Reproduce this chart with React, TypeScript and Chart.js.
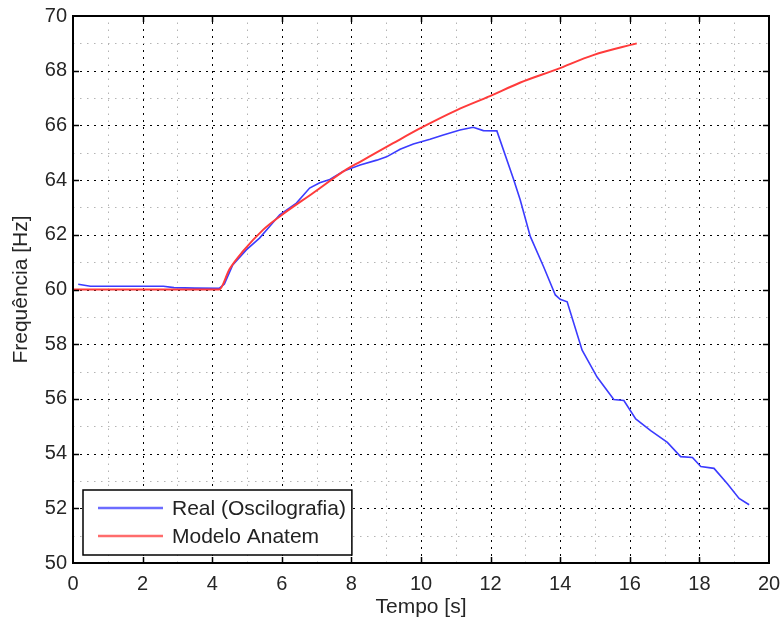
import React, { useEffect, useRef } from 'react';
import { Chart, registerables } from 'chart.js';

Chart.register(...registerables);

// ---- Data ----
const realTime = [0.15, 0.5, 1.5, 2.6, 2.9, 3.5, 4.2, 4.35, 4.59, 4.98, 5.36, 5.65, 5.94, 6.42, 6.8, 7.09, 7.38, 7.76, 8.25, 8.73, 9.01, 9.4, 9.78, 10.26, 10.64, 11.12, 11.5, 11.79, 12.18, 12.65, 12.85, 13.14, 13.52, 13.86, 14.0, 14.2, 14.63, 15.06, 15.54, 15.83, 16.17, 16.6, 17.08, 17.46, 17.8, 18.04, 18.42, 18.81, 19.14, 19.43];
const realFreq = [60.19, 60.12, 60.12, 60.12, 60.07, 60.05, 60.04, 60.2, 60.9, 61.45, 61.88, 62.3, 62.73, 63.16, 63.71, 63.9, 64.02, 64.32, 64.55, 64.73, 64.85, 65.13, 65.32, 65.49, 65.65, 65.83, 65.93, 65.81, 65.8, 64.07, 63.28, 61.94, 60.84, 59.8, 59.64, 59.55, 57.78, 56.8, 55.98, 55.94, 55.27, 54.84, 54.41, 53.89, 53.86, 53.53, 53.46, 52.89, 52.36, 52.13];

const modelTime = [0, 1, 2, 3, 4.2, 4.5, 4.88, 5.46, 5.94, 6.9, 7.86, 8.25, 9.2, 9.97, 11.03, 11.98, 12.84, 13.9, 14.95, 16.2];
const modelFreq = [60.0, 60.0, 60.0, 60.0, 60.0, 60.75, 61.39, 62.18, 62.67, 63.53, 64.39, 64.67, 65.35, 65.89, 66.56, 67.07, 67.56, 68.05, 68.57, 69.0];

const seriesLabels = ['Real (Oscilografia)', 'Modelo Anatem'];
const seriesColors = ['#3b3bff', '#ff3b3b'];

const xRange = [0, 20];
const yRange = [50, 70];
const majorStep = 2;
const xTitle = 'Tempo [s]';
const yTitle = 'Frequência [Hz]';

const FONT = '"Liberation Sans", Arial, Helvetica, sans-serif';

const matlabPlugin = {
  id: 'matlabStyle',
  beforeDatasetsDraw(chart: any) {
    const { ctx, chartArea: a, scales } = chart;
    const x = scales.x;
    const y = scales.y;
    ctx.save();
    ctx.lineWidth = 1;
    for (let v = xRange[0] + 1; v < xRange[1]; v++) {
      const major = v % majorStep === 0;
      ctx.strokeStyle = major ? '#000000' : '#b4b4b4';
      ctx.setLineDash(major ? [2, 5] : [1.5, 5.5]);
      const px = Math.round(x.getPixelForValue(v)) + 0.5;
      ctx.beginPath();
      ctx.moveTo(px, a.bottom);
      ctx.lineTo(px, a.top);
      ctx.stroke();
    }
    for (let v = yRange[0] + 1; v < yRange[1]; v++) {
      const major = v % majorStep === 0;
      ctx.strokeStyle = major ? '#000000' : '#b4b4b4';
      ctx.setLineDash(major ? [2, 5] : [1.5, 5.5]);
      const py = Math.round(y.getPixelForValue(v)) + 0.5;
      ctx.beginPath();
      ctx.moveTo(a.left, py);
      ctx.lineTo(a.right, py);
      ctx.stroke();
    }
    ctx.restore();
  },
  afterDatasetsDraw(chart: any) {
    const { ctx, chartArea: a, scales } = chart;
    const x = scales.x;
    const y = scales.y;
    ctx.save();
    ctx.setLineDash([]);
    ctx.strokeStyle = '#000';
    ctx.lineWidth = 1.5;
    const tl = 6;
    for (let v = xRange[0] + majorStep; v < xRange[1]; v += majorStep) {
      const px = Math.round(x.getPixelForValue(v)) + 0.5;
      ctx.beginPath();
      ctx.moveTo(px, a.bottom);
      ctx.lineTo(px, a.bottom - tl);
      ctx.moveTo(px, a.top);
      ctx.lineTo(px, a.top + tl);
      ctx.stroke();
    }
    for (let v = yRange[0] + majorStep; v < yRange[1]; v += majorStep) {
      const py = Math.round(y.getPixelForValue(v)) + 0.5;
      ctx.beginPath();
      ctx.moveTo(a.left, py);
      ctx.lineTo(a.left + tl, py);
      ctx.moveTo(a.right, py);
      ctx.lineTo(a.right - tl, py);
      ctx.stroke();
    }
    ctx.lineWidth = 2;
    ctx.strokeRect(a.left, a.top, a.right - a.left, a.bottom - a.top);

    // legend
    ctx.font = `21px ${FONT}`;
    const textW = Math.max(...seriesLabels.map((s) => ctx.measureText(s).width));
    const boxL = a.left + 10;
    const boxB = a.bottom - 8;
    const boxT = boxB - 65;
    const lineX0 = boxL + 15;
    const lineX1 = boxL + 80;
    const textX = boxL + 89;
    const boxR = textX + textW + 6;
    ctx.fillStyle = '#ffffff';
    ctx.fillRect(boxL, boxT, boxR - boxL, boxB - boxT);
    ctx.lineWidth = 1.5;
    ctx.strokeStyle = '#000';
    ctx.strokeRect(boxL, boxT, boxR - boxL, boxB - boxT);
    const rows = [boxT + 18, boxT + 46];
    seriesLabels.forEach((lab, i) => {
      ctx.strokeStyle = seriesColors[i];
      ctx.globalAlpha = 0.75;
      ctx.lineWidth = 2.5;
      ctx.beginPath();
      ctx.moveTo(lineX0, rows[i]);
      ctx.lineTo(lineX1, rows[i]);
      ctx.stroke();
      ctx.globalAlpha = 1;
      ctx.fillStyle = '#222222';
      ctx.textBaseline = 'middle';
      ctx.textAlign = 'left';
      ctx.fillText(lab, textX, rows[i] + 1);
    });
    ctx.restore();
  },
};

export default function App() {
  const ref = useRef<HTMLCanvasElement | null>(null);
  useEffect(() => {
    if (!ref.current) return;
    const realData = realTime.map((t, i) => ({ x: t, y: realFreq[i] }));
    const modelData = modelTime.map((t, i) => ({ x: t, y: modelFreq[i] }));
    const chart = new Chart(ref.current, {
      type: 'line',
      data: {
        datasets: [
          {
            label: seriesLabels[1],
            data: modelData,
            borderColor: seriesColors[1],
            borderWidth: 2,
            pointRadius: 0,
            cubicInterpolationMode: 'monotone',
          },
          {
            label: seriesLabels[0],
            data: realData,
            borderColor: seriesColors[0],
            borderWidth: 1.6,
            pointRadius: 0,
            tension: 0,
          },
        ],
      },
      options: {
        animation: false,
        responsive: false,
        maintainAspectRatio: false,
        layout: { padding: { top: 16, right: 13, left: 0, bottom: 0 } },
        plugins: {
          legend: { display: false },
          tooltip: { enabled: false },
        },
        scales: {
          x: {
            type: 'linear',
            min: xRange[0],
            max: xRange[1],
            grid: { display: false, drawTicks: false },
            border: { display: false },
            ticks: {
              stepSize: majorStep,
              padding: 9,
              color: '#262626',
              font: { family: FONT, size: 20 },
              maxRotation: 0,
            },
            title: {
              display: true,
              text: xTitle,
              color: '#262626',
              font: { family: FONT, size: 21 },
              padding: { top: 0, bottom: 4 },
            },
            afterFit: (s: any) => {
              s.height = 61;
              s.paddingLeft = 0;
              s.paddingRight = 0;
            },
          },
          y: {
            type: 'linear',
            min: yRange[0],
            max: yRange[1],
            grid: { display: false, drawTicks: false },
            border: { display: false },
            ticks: {
              stepSize: majorStep,
              padding: 6,
              color: '#262626',
              font: { family: FONT, size: 20 },
            },
            title: {
              display: true,
              text: yTitle,
              color: '#262626',
              font: { family: FONT, size: 21 },
              padding: { top: 9, bottom: 0 },
            },
            afterFit: (s: any) => {
              s.width = 73;
              s.paddingTop = 0;
              s.paddingBottom = 0;
            },
          },
        },
      },
      plugins: [matlabPlugin],
    });
    return () => chart.destroy();
  }, []);
  return (
    <div style={{ position: 'absolute', left: 0, top: 0, width: 782, height: 624, background: '#fff' }}>
      <canvas ref={ref} width={782} height={624} style={{ display: 'block', width: 782, height: 624 }} />
    </div>
  );
}
